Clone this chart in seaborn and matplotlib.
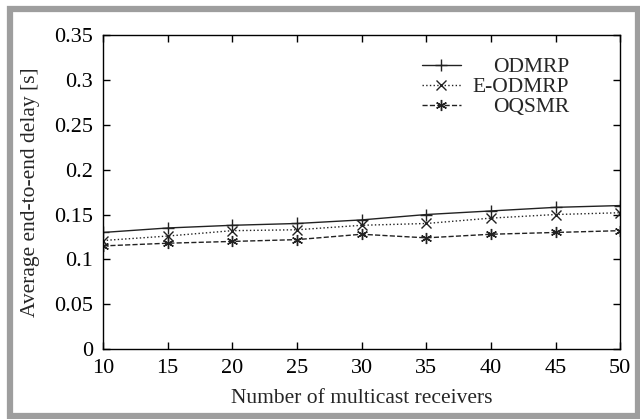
import pandas as pd
import matplotlib
matplotlib.use("Agg")
import matplotlib.pyplot as plt
import matplotlib.patches as mpatches
import seaborn as sns

# Data
receivers = [10, 15, 20, 25, 30, 35, 40, 45, 50]
odmrp = [0.130, 0.135, 0.138, 0.140, 0.144, 0.150, 0.154, 0.158, 0.160]
e_odmrp = [0.121, 0.126, 0.132, 0.133, 0.138, 0.140, 0.146, 0.150, 0.152]
oqsmr = [0.115, 0.118, 0.120, 0.122, 0.128, 0.124, 0.128, 0.130, 0.132]
y_ticks = [0, 0.05, 0.1, 0.15, 0.2, 0.25, 0.3, 0.35]

sns.set_style("ticks")
plt.rcParams["font.family"] = ["Liberation Serif", "DejaVu Serif"]
plt.rcParams["font.size"] = 15.5

fig = plt.figure(figsize=(6.4, 4.19), dpi=100)
ax = fig.add_axes([0.161, 0.167, 0.808, 0.749])

# grey frame round the whole picture
fig.patches.append(mpatches.Rectangle((9.5 / 640, 3 / 419), 628 / 640, 407 / 419,
                                      transform=fig.transFigure, fill=False,
                                      edgecolor="#9e9e9e", linewidth=4.5))

series = [("ODMRP", odmrp, "-", "+", 9),
          ("E-ODMRP", e_odmrp, ":", "x", 7),
          ("OQSMR", oqsmr, "--", (6, 2, 0), 8)]
for name, vals, ls, mk, ms in series:
    df = pd.DataFrame({"x": receivers, "y": vals})
    sns.lineplot(data=df, x="x", y="y", ax=ax, color="#222222", linewidth=1.0,
                 linestyle=ls, marker=mk, markersize=ms, markeredgewidth=1.0,
                 markeredgecolor="#222222", label=name)

ax.set_xlim(10, 50)
ax.set_ylim(0, 0.35)
ax.set_xticks(receivers)
ax.set_yticks(y_ticks)
ax.set_yticklabels([f"{v:g}" for v in y_ticks])
ax.tick_params(direction="in", length=5, width=1, top=True, right=True,
               labelsize=16, colors="black", pad=7)
for s in ax.spines.values():
    s.set_linewidth(1.0)
    s.set_color("black")
ax.set_xlabel("Number of multicast receivers", fontsize=15.5, labelpad=8)
ax.set_ylabel("Average end-to-end delay [s]", fontsize=15.5, labelpad=10)

leg = ax.legend(loc="upper right", bbox_to_anchor=(0.918, 0.958), frameon=False,
                handlelength=1.8, handletextpad=0.55, labelspacing=0.0,
                fontsize=15.5, borderaxespad=0)
# right-align labels like gnuplot's key
fig.canvas.draw()
r = fig.canvas.get_renderer()
widths = [t.get_window_extent(r).width for t in leg.get_texts()]
wmax = max(widths)
for t, w in zip(leg.get_texts(), widths):
    t.set_position((wmax - w, 0))

fig.savefig("out.png", dpi=100)
